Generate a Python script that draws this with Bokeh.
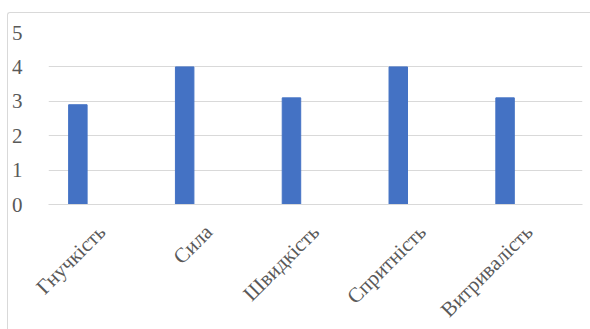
import math
from bokeh.plotting import figure
from bokeh.models import ColumnDataSource, FactorRange, Range1d
from bokeh.transform import dodge
from bokeh.embed import file_html
from bokeh.resources import INLINE

categories = ["Гнучкість", "Сила", "Швидкість", "Спритність", "Витривалість"]
values = [2.9, 4.0, 3.1, 4.0, 3.1]
y_ticks = [0, 1, 2, 3, 4, 5]

src = ColumnDataSource(data=dict(cat=categories, val=values))

p = figure(
    x_range=FactorRange(*categories, range_padding=0),
    y_range=Range1d(0, 5),
    frame_width=534, frame_height=172,
    output_backend="svg", toolbar_location=None,
    min_border_left=40, min_border_right=8, min_border_top=19, min_border_bottom=0,
)
# chart-area frame: only its top and left edges fall inside the window
p.styles = {"border-top": "1px solid #d9d9d9", "border-left": "1px solid #d9d9d9",
            "border-top-left-radius": "3px",
            "margin-left": "7px", "margin-top": "12px"}
p.outline_line_color = None
p.background_fill_color = "white"
p.border_fill_color = "white"

p.vbar(x=dodge("cat", -0.225, range=p.x_range), top="val", width=0.173,
       source=src, fill_color="#4472C4", line_color="#4472C4")

p.xgrid.grid_line_color = None
p.ygrid.grid_line_color = "#d9d9d9"
p.ygrid.grid_line_width = 1
p.yaxis.ticker = y_ticks

p.yaxis.axis_line_color = None
p.yaxis.major_tick_line_color = None
p.yaxis.minor_tick_line_color = None
p.yaxis.major_label_standoff = 20
p.yaxis.major_label_text_font = "Liberation Serif"
p.yaxis.major_label_text_font_size = "21px"
p.yaxis.major_label_text_color = "#595959"

p.xaxis.axis_line_color = "#d9d9d9"
p.xaxis.major_tick_line_color = None
p.xaxis.major_label_orientation = math.pi / 4
p.xaxis.major_label_standoff = 18
p.xaxis.major_label_text_font = "Liberation Serif"
p.xaxis.major_label_text_font_size = "21px"
p.xaxis.major_label_text_color = "#595959"

open("out.html", "w").write(file_html(p, INLINE))
